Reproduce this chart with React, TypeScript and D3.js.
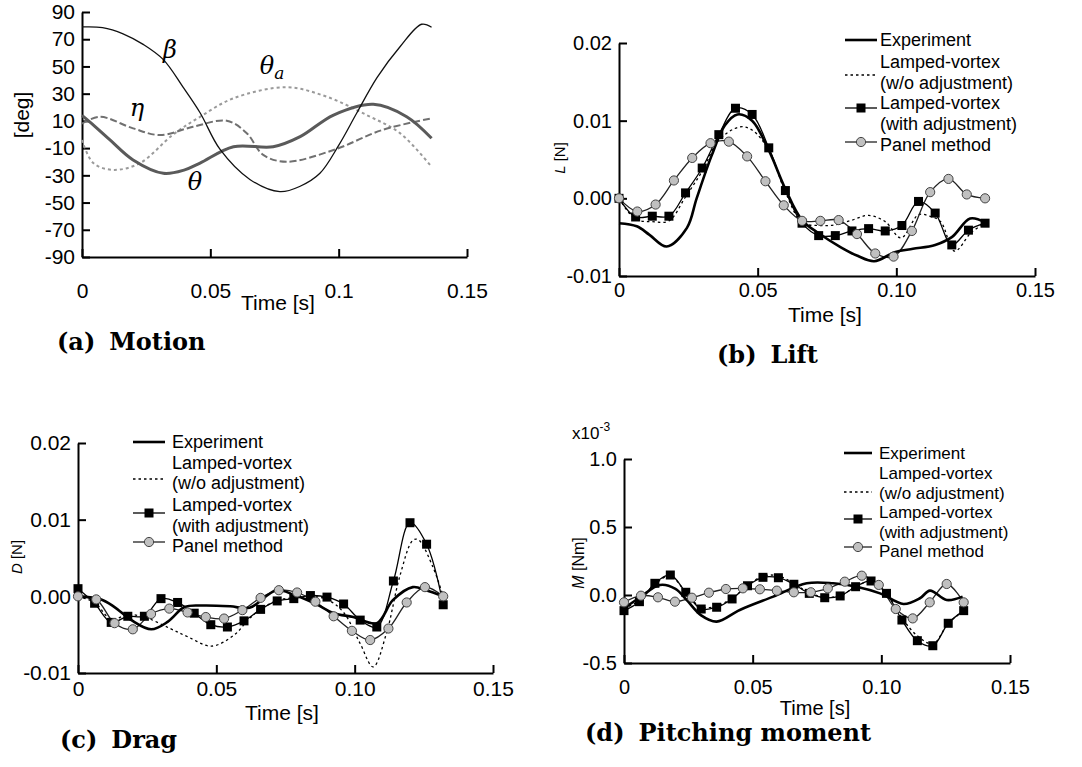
import { useEffect, useRef } from 'react';
import * as d3 from 'd3';

// ---------- (a) Motion ----------
const betaT = [0, 0.008, 0.016, 0.024, 0.0317, 0.0393, 0.046, 0.0538, 0.0654, 0.0771, 0.085, 0.0927, 0.1, 0.107, 0.115, 0.1239, 0.1323, 0.1362];
const betaV = [79, 78.5, 74, 66, 55, 35, 16, -11, -33, -42, -38, -28.5, -8, 15.6, 42, 64.5, 81, 78.8];
const thetaT = [0, 0.005, 0.0109, 0.0199, 0.0317, 0.04, 0.046, 0.059, 0.0745, 0.085, 0.098, 0.1135, 0.1265, 0.1362];
const thetaV = [14, 6, -4, -18.7, -28.5, -26, -21, -9, -9, -1.6, 14.3, 22.2, 13.1, -2.8];
const thetaAT = [0, 0.0044, 0.0122, 0.0226, 0.0355, 0.046, 0.059, 0.0797, 0.0953, 0.1109, 0.1239, 0.1356];
const thetaAV = [-4, -21, -26, -21, 0, 13, 26.6, 34.7, 27.8, 14.3, 1, -22.4];
const etaT = [0, 0.007, 0.0199, 0.0304, 0.0433, 0.0564, 0.0642, 0.0706, 0.0797, 0.098, 0.117, 0.1362];
const etaV = [8, 13, 4.5, -0.4, 5.7, 10.1, 1, -15, -20, -11.4, 3.3, 11.9];
const aYTicks = [-90, -70, -50, -30, -10, 10, 30, 50, 70, 90];
const aXTicks = [0, 0.05, 0.1, 0.15];
const aXLabels = ['0', '0.05', '0.1', '0.15'];

// shared sample times of the marker series
const sqT = [0, 0.006, 0.012, 0.018, 0.024, 0.03, 0.036, 0.042, 0.048, 0.054, 0.06, 0.066, 0.072, 0.078, 0.084, 0.09, 0.096, 0.102, 0.108, 0.114, 0.12, 0.126, 0.132];
const circT = [0, 0.0066, 0.0132, 0.0198, 0.0264, 0.033, 0.0396, 0.0462, 0.0528, 0.0594, 0.066, 0.0726, 0.0792, 0.0858, 0.0924, 0.099, 0.1056, 0.1122, 0.1188, 0.1254, 0.132];
const forceXTicks = [0, 0.05, 0.1, 0.15];
const forceXLabels = ['0', '0.05', '0.10', '0.15'];
const legendLabels = ['Experiment', 'Lamped-vortex', '(w/o adjustment)', 'Lamped-vortex', '(with adjustment)', 'Panel method'];

// ---------- (b) Lift ----------
const bExpT = [0, 0.0064, 0.011, 0.0172, 0.0245, 0.028, 0.0334, 0.0382, 0.0427, 0.048, 0.054, 0.06, 0.066, 0.072, 0.08, 0.086, 0.092, 0.0997, 0.106, 0.114, 0.12, 0.1266, 0.132];
const bExpV = [-0.0032, -0.0036, -0.0047, -0.0062, -0.0038, 0.0, 0.0055, 0.0094, 0.0108, 0.01, 0.0062, 0.0012, -0.0028, -0.0045, -0.0063, -0.0074, -0.0081, -0.0069, -0.0065, -0.006, -0.005, -0.0026, -0.0031];
const bWoT = [0, 0.006, 0.012, 0.018, 0.024, 0.03, 0.036, 0.0436, 0.048, 0.054, 0.06, 0.066, 0.072, 0.078, 0.084, 0.09, 0.096, 0.1017, 0.108, 0.112, 0.116, 0.121, 0.127, 0.132];
const bWoV = [0, -0.0027, -0.003, -0.0029, 0.0002, 0.0035, 0.0075, 0.0092, 0.0088, 0.0062, 0.0008, -0.0031, -0.0035, -0.0034, -0.0028, -0.0022, -0.003, -0.0051, -0.0021, -0.0023, -0.003, -0.0068, -0.0044, -0.0032];
const bSqV = [0, -0.0024, -0.0023, -0.0023, 0.0007, 0.0039, 0.0082, 0.0116, 0.0108, 0.0065, 0.001, -0.0032, -0.0048, -0.0048, -0.0042, -0.0039, -0.0042, -0.0035, -0.0004, -0.0019, -0.006, -0.0041, -0.0032];
const bCircV = [0, -0.0017, -0.0008, 0.0023, 0.0052, 0.0071, 0.0073, 0.0054, 0.0022, -0.0009, -0.0029, -0.0029, -0.0028, -0.0046, -0.0071, -0.0075, -0.0042, 0.0008, 0.0025, 0.0005, 0.0];
const bYTicks = [-0.01, 0, 0.01, 0.02];
const bYLabels = ['-0.01', '0.00', '0.01', '0.02'];

// ---------- (c) Drag ----------
const cExpT = [0, 0.0084, 0.0132, 0.0193, 0.0265, 0.0325, 0.0385, 0.045, 0.055, 0.062, 0.0717, 0.078, 0.086, 0.0925, 0.0995, 0.108, 0.1138, 0.121, 0.1258, 0.132];
const cExpV = [0, -0.0004, -0.0014, -0.0031, -0.0043, -0.0033, -0.0014, -0.0012, -0.0013, -0.0015, 0.0008, 0.0002, -0.001, -0.0022, -0.0027, -0.0035, -0.0005, 0.0012, 0.0008, 0.0];
const cWoT = [0, 0.006, 0.012, 0.018, 0.024, 0.0333, 0.0398, 0.0482, 0.0566, 0.0614, 0.066, 0.0723, 0.078, 0.084, 0.09, 0.096, 0.1019, 0.1067, 0.1115, 0.1163, 0.121, 0.123, 0.1282, 0.132];
const cWoV = [0, -0.0008, -0.003, -0.0024, -0.0027, -0.0042, -0.0053, -0.0065, -0.005, -0.0031, -0.0017, -0.0005, -0.0002, 0.0, -0.0004, -0.0021, -0.0061, -0.0092, -0.0048, 0.0026, 0.0073, 0.0074, 0.0039, 0.0];
const cSqV = [0.001, -0.0009, -0.0034, -0.0026, -0.0026, -0.0003, -0.0008, -0.0022, -0.0037, -0.004, -0.0032, -0.0017, -0.0006, -0.0003, 0.0001, -0.0001, -0.001, -0.0031, -0.004, 0.002, 0.0096, 0.0068, -0.0011];
const cCircV = [0.0, -0.0004, -0.0035, -0.0043, -0.0023, -0.0016, -0.0021, -0.0027, -0.0029, -0.0018, -0.0002, 0.0008, 0.0005, -0.0007, -0.0026, -0.0045, -0.0057, -0.0042, -0.0008, 0.0012, 0.0];
const cYTicks = [-0.01, 0, 0.01, 0.02];
const cYLabels = ['-0.01', '0.00', '0.01', '0.02'];

// ---------- (d) Pitching moment (x10^-3 Nm) ----------
const dExpT = [0, 0.006, 0.014, 0.02, 0.0245, 0.03, 0.036, 0.045, 0.058, 0.071, 0.0813, 0.0904, 0.0995, 0.1086, 0.115, 0.1189, 0.1254, 0.1316];
const dExpV = [-0.098, -0.02, 0.074, 0.045, -0.04, -0.15, -0.196, -0.11, -0.012, 0.086, 0.086, 0.061, 0.012, -0.066, -0.024, 0.032, -0.037, -0.012];
const dWoV = [-0.1, -0.04, 0.08, 0.14, 0.02, -0.09, -0.08, -0.025, 0.07, 0.14, 0.14, 0.085, 0.015, -0.015, -0.005, 0.06, 0.1, 0.01, -0.17, -0.3, -0.36, -0.21, -0.115];
const dSqV = [-0.115, -0.049, 0.086, 0.147, 0.02, -0.103, -0.09, -0.029, 0.068, 0.13, 0.127, 0.079, 0.012, -0.02, -0.007, 0.061, 0.103, 0.012, -0.184, -0.336, -0.373, -0.208, -0.115];
const dCircV = [-0.054, -0.005, -0.017, -0.049, -0.02, 0.017, 0.044, 0.049, 0.042, 0.032, 0.02, 0.02, 0.049, 0.098, 0.142, 0.074, -0.103, -0.172, -0.054, 0.081, -0.054];
const dYTicks = [-0.5, 0, 0.5, 1.0];
const dYLabels = ['-0.5', '0.0', '0.5', '1.0'];

const SANS = '"Liberation Sans", Arial, sans-serif';
const SERIF = '"DejaVu Serif", serif';

const App = () => {
    const ref = useRef(null);

    useEffect(() => {
        const svg = d3.select(ref.current);
        svg.selectAll('*').remove();

        // axes with inward ticks, returns scales
        const drawAxes = (o) => {
            const x = d3.scaleLinear().domain([0, 0.15]).range([o.x0, o.x1]);
            const y = d3.scaleLinear().domain(o.yDomain).range([o.yBot, o.yTop]);
            const g = svg.append('g');
            const ax = g.append('g')
                .attr('transform', `translate(0,${o.yBot})`)
                .call(d3.axisBottom(x).tickValues(o.xTicks).tickFormat((d, i) => o.xLabels[i]).tickSize(-8).tickSizeOuter(0).tickPadding(o.xPad));
            const ay = g.append('g')
                .attr('transform', `translate(${o.x0},0)`)
                .call(d3.axisLeft(y).tickValues(o.yTicks).tickFormat((d, i) => o.yLabels[i]).tickSize(-8).tickSizeOuter(0).tickPadding(7));
            [ax, ay].forEach((a) => {
                a.select('.domain').attr('stroke', '#000').attr('stroke-width', 2);
                a.selectAll('.tick line').attr('stroke', '#000').attr('stroke-width', 2);
                a.selectAll('.tick text').attr('font-family', SANS).attr('font-size', o.fs).attr('fill', '#000');
            });
            return { x, y };
        };

        const line = (x, y) => d3.line().x((d) => x(d[0])).y((d) => y(d[1])).curve(d3.curveCatmullRom.alpha(0.5));

        const text = (x, y, str, fs, extra = {}) => {
            const t = svg.append('text').attr('x', x).attr('y', y).attr('font-family', SANS).attr('font-size', fs).text(str);
            Object.entries(extra).forEach(([k, v]) => t.attr(k, v));
            return t;
        };

        const caption = (x, y, a, b) => {
            const t = svg.append('text').attr('x', x).attr('y', y).attr('font-family', SERIF)
                .attr('font-weight', 'bold').attr('font-size', 24).style('white-space', 'pre');
            t.append('tspan').text(a);
            t.append('tspan').attr('dx', 14).text(b);
        };

        const drawSeries = (x, y, s) => {
            const l = line(x, y);
            svg.append('path').attr('d', l(d3.zip(s.wT, s.wo))).attr('fill', 'none')
                .attr('stroke', '#000').attr('stroke-width', 1.3).attr('stroke-dasharray', '2.5,3');
            svg.append('path').attr('d', l(d3.zip(sqT, s.sq))).attr('fill', 'none')
                .attr('stroke', '#000').attr('stroke-width', 1.3);
            svg.append('path').attr('d', l(d3.zip(circT, s.circ))).attr('fill', 'none')
                .attr('stroke', '#222').attr('stroke-width', 1.3);
            svg.append('path').attr('d', l(d3.zip(s.eT, s.exp))).attr('fill', 'none')
                .attr('stroke', '#000').attr('stroke-width', 2.6);
            svg.append('g').selectAll('rect').data(d3.zip(sqT, s.sq)).join('rect')
                .attr('x', (d) => x(d[0]) - 4.5).attr('y', (d) => y(d[1]) - 4.5)
                .attr('width', 9).attr('height', 9).attr('fill', '#000');
            svg.append('g').selectAll('circle').data(d3.zip(circT, s.circ)).join('circle')
                .attr('cx', (d) => x(d[0])).attr('cy', (d) => y(d[1])).attr('r', 4.6)
                .attr('fill', '#c0c0c0').attr('stroke', '#444').attr('stroke-width', 1);
        };

        const legend = (o) => {
            const g = svg.append('g');
            o.rows.forEach((ry, i) => {
                g.append('text').attr('x', o.tx).attr('y', ry).attr('dy', '0.35em')
                    .attr('font-family', SANS).attr('font-size', o.fs).text(legendLabels[i]);
            });
            const mid = (o.s0 + o.s1) / 2;
            g.append('line').attr('x1', o.s0).attr('x2', o.s1).attr('y1', o.rows[0]).attr('y2', o.rows[0])
                .attr('stroke', '#000').attr('stroke-width', 2.6);
            g.append('line').attr('x1', o.s0).attr('x2', o.s1).attr('y1', o.dotY).attr('y2', o.dotY)
                .attr('stroke', '#000').attr('stroke-width', 1.3).attr('stroke-dasharray', '2.5,3');
            g.append('line').attr('x1', o.s0).attr('x2', o.s1).attr('y1', o.sqY).attr('y2', o.sqY)
                .attr('stroke', '#000').attr('stroke-width', 1.3);
            g.append('rect').attr('x', mid - 4.5).attr('y', o.sqY - 4.5).attr('width', 9).attr('height', 9).attr('fill', '#000');
            g.append('line').attr('x1', o.s0).attr('x2', o.s1).attr('y1', o.cY).attr('y2', o.cY)
                .attr('stroke', '#222').attr('stroke-width', 1.3);
            g.append('circle').attr('cx', mid).attr('cy', o.cY).attr('r', 4.6)
                .attr('fill', '#c0c0c0').attr('stroke', '#444').attr('stroke-width', 1);
        };

        // ----- (a) -----
        {
            const { x, y } = drawAxes({ x0: 82, x1: 467, yTop: 12, yBot: 257, yDomain: [-90, 90], xTicks: aXTicks, xLabels: aXLabels, yTicks: aYTicks, yLabels: aYTicks.map(String), xPad: 26, fs: 21 });
            const l = line(x, y);
            svg.append('path').attr('d', l(d3.zip(thetaAT, thetaAV))).attr('fill', 'none')
                .attr('stroke', '#9a9a9a').attr('stroke-width', 2).attr('stroke-dasharray', '3,3');
            svg.append('path').attr('d', l(d3.zip(etaT, etaV))).attr('fill', 'none')
                .attr('stroke', '#707070').attr('stroke-width', 2).attr('stroke-dasharray', '7,3');
            svg.append('path').attr('d', l(d3.zip(thetaT, thetaV))).attr('fill', 'none')
                .attr('stroke', '#5a5a5a').attr('stroke-width', 3);
            svg.append('path').attr('d', l(d3.zip(betaT, betaV))).attr('fill', 'none')
                .attr('stroke', '#111').attr('stroke-width', 1.3);
            const greek = (gx, gy, s, sub) => {
                const t = svg.append('text').attr('x', gx).attr('y', gy).attr('font-family', '"DejaVu Serif", serif')
                    .attr('font-style', 'italic').attr('font-size', 24).attr('text-anchor', 'middle').text(s);
                if (sub) t.append('tspan').attr('font-size', 17).attr('dy', 5).text(sub);
            };
            greek(170, 58, 'β');
            greek(272, 74, 'θ', 'a');
            greek(137, 116, 'η');
            greek(195, 190, 'θ');
            text(22, 115, '[deg]', 21, { 'text-anchor': 'middle', transform: 'rotate(-90,22,115)', dy: '0.35em' });
            text(278, 303, 'Time [s]', 21, { 'text-anchor': 'middle', dy: '0.35em' });
            caption(57, 350, '(a)', 'Motion');
        }

        // ----- (b) -----
        {
            const { x, y } = drawAxes({ x0: 619, x1: 1035, yTop: 43, yBot: 276, yDomain: [-0.01, 0.02], xTicks: forceXTicks, xLabels: forceXLabels, yTicks: bYTicks, yLabels: bYLabels, xPad: 7, fs: 20 });
            drawSeries(x, y, { eT: bExpT, exp: bExpV, wT: bWoT, wo: bWoV, sq: bSqV, circ: bCircV });
            legend({ s0: 845, s1: 877, tx: 880, fs: 18, rows: [40, 62, 83, 103, 124, 145], dotY: 75, sqY: 108, cY: 142 });
            const t = text(560, 158, '', 15, { 'text-anchor': 'middle', transform: 'rotate(-90,560,158)', dy: '0.35em' });
            t.append('tspan').attr('font-style', 'italic').text('L');
            t.append('tspan').text(' [N]');
            text(825, 315, 'Time [s]', 21, { 'text-anchor': 'middle', dy: '0.35em' });
            caption(717, 363, '(b)', 'Lift');
        }

        // ----- (c) -----
        {
            const { x, y } = drawAxes({ x0: 78, x1: 493, yTop: 443, yBot: 673, yDomain: [-0.01, 0.02], xTicks: forceXTicks, xLabels: forceXLabels, yTicks: cYTicks, yLabels: cYLabels, xPad: 8, fs: 21 });
            drawSeries(x, y, { eT: cExpT, exp: cExpV, wT: cWoT, wo: cWoV, sq: cSqV, circ: cCircV });
            legend({ s0: 133, s1: 165, tx: 172, fs: 18, rows: [442, 463, 483, 505, 526, 546], dotY: 479, sqY: 513, cY: 542 });
            const t = text(17, 557, '', 15, { 'text-anchor': 'middle', transform: 'rotate(-90,17,557)', dy: '0.35em' });
            t.append('tspan').attr('font-style', 'italic').text('D');
            t.append('tspan').text(' [N]');
            text(282, 713, 'Time [s]', 21, { 'text-anchor': 'middle', dy: '0.35em' });
            caption(60, 748, '(c)', 'Drag');
        }

        // ----- (d) -----
        {
            const { x, y } = drawAxes({ x0: 624, x1: 1010, yTop: 459, yBot: 663, yDomain: [-0.5, 1.0], xTicks: forceXTicks, xLabels: forceXLabels, yTicks: dYTicks, yLabels: dYLabels, xPad: 17, fs: 20 });
            drawSeries(x, y, { eT: dExpT, exp: dExpV, wT: sqT, wo: dWoV, sq: dSqV, circ: dCircV });
            legend({ s0: 844, s1: 872, tx: 879, fs: 17, rows: [453, 473, 493, 512, 532, 551], dotY: 492, sqY: 519, cY: 547 });
            const t = text(578, 563, '', 16, { 'text-anchor': 'middle', transform: 'rotate(-90,578,563)', dy: '0.35em' });
            t.append('tspan').attr('font-style', 'italic').text('M');
            t.append('tspan').text(' [Nm]');
            const e = text(572, 439, 'x10', 17);
            e.append('tspan').attr('font-size', 12).attr('dy', -8).text('-3');
            text(815, 708, 'Time [s]', 20, { 'text-anchor': 'middle', dy: '0.35em' });
            caption(585, 741, '(d)', 'Pitching moment');
        }
    }, []);

    return <svg ref={ref} width={1082} height={767} style={{ position: 'absolute', left: 0, top: 0, background: '#fff' }}></svg>;
};

export default App;
